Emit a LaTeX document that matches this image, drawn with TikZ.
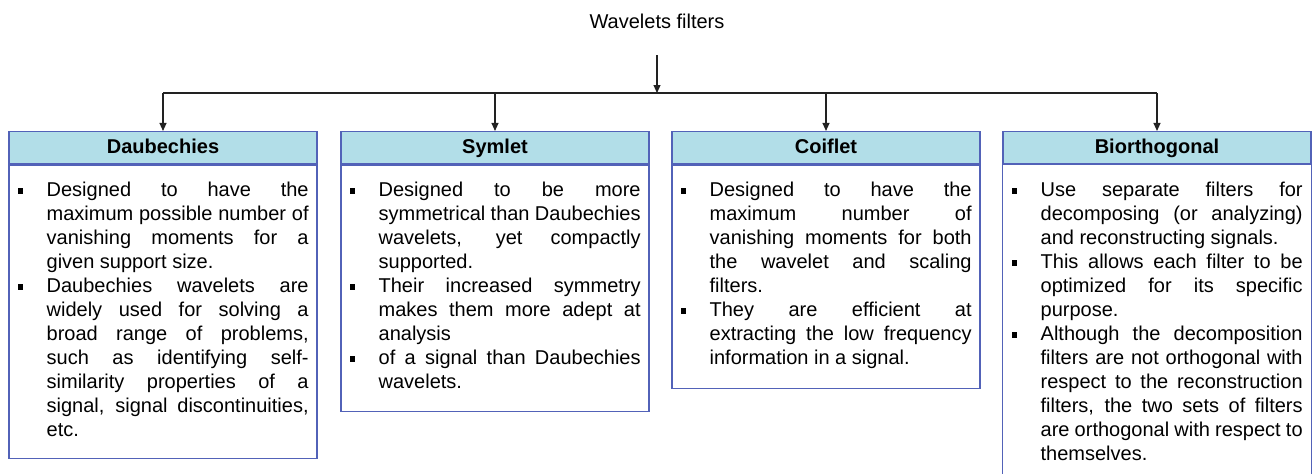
\documentclass[tikz,border=0pt]{standalone}
\usepackage{fontspec}
\setmainfont{Liberation Sans}
\usetikzlibrary{arrows.meta}

\definecolor{headfill}{HTML}{B2DEE8}
\definecolor{frameblue}{HTML}{5262B8}
\definecolor{linkgray}{HTML}{222222}

% small square bullet used in the description lists
\newcommand\sqbullet{\hspace*{5pt}\rule[3.2pt]{5.5pt}{5.5pt}}
\newenvironment{sqlist}{%
  \begin{list}{\sqbullet}{%
    \setlength\leftmargin{34pt}\setlength\rightmargin{4pt}%
    \setlength\labelwidth{34pt}\setlength\labelsep{0pt}%
    \setlength\itemindent{0pt}\setlength\itemsep{0pt}%
    \setlength\parsep{0pt}\setlength\topsep{0pt}\setlength\partopsep{0pt}%
    \renewcommand\makelabel[1]{\makebox[\labelwidth][l]{##1}}}%
  \tolerance=10000 \hbadness=10000 \hyphenpenalty=10000 \exhyphenpenalty=10000 }%
  {\end{list}}

\begin{document}
\begin{tikzpicture}[x=1pt,y=-1pt,
  titletext/.style={font=\fontsize{20}{24}\selectfont, inner sep=0pt},
  head/.style={draw=frameblue, line width=1.1pt, fill=headfill,
    minimum width=308pt, minimum height=32.5pt, inner sep=0pt,
    text height=14.5pt, text depth=4pt,
    font=\bfseries\fontsize{20}{24}\selectfont},
  body/.style={draw=frameblue, line width=1.1pt, minimum width=308pt,
    inner sep=0pt, anchor=north},
  frame/.style={draw=frameblue, line width=1.1pt},
  bodytext/.style={anchor=north west, inner sep=0pt, text width=300pt,
    align=justify, font=\fontsize{20}{24}\selectfont},
  link/.style={draw=linkgray, line width=1.1pt},
  conn/.style={link, -{Triangle[length=8pt,width=7pt]}}]

\useasboundingbox (0,0) rectangle (1314,474);

% root label
\node[titletext, anchor=base] (title) at (657,28) {Wavelets filters};

% headers
\node[head] (dH) at (163,147.75) {Daubechies};
\node[head] (sH) at (495,147.75) {Symlet};
\node[head] (cH) at (826,147.75) {Coiflet};
\node[head] (bH) at (1157,147.75) {Biorthogonal};

% body frames
\node[body, minimum height=293pt] (dF) at (dH.south) {};
\node[body, minimum height=246pt] (sF) at (sH.south) {};
\node[body, minimum height=223pt] (cF) at (cH.south) {};
\coordinate (pagebottom) at (0,474);
\draw[frame] (bH.south west) -- (bH.south west |- pagebottom);
\draw[frame] (bH.south east) -- (bH.south east |- pagebottom);

% headers drawn again on top of the frames
\node[head] at (dH) {Daubechies};
\node[head] at (sH) {Symlet};
\node[head] at (cH) {Coiflet};
\node[head] at (bH) {Biorthogonal};

% descriptions
\node[bodytext] (dT) at ([xshift=4pt,yshift=-8pt]dH.south west) {%
\begin{sqlist}
\item Designed to have the\linebreak maximum possible number of\linebreak vanishing moments for a\linebreak given support size.
\item Daubechies wavelets are\linebreak widely used for solving a\linebreak broad range of problems,\linebreak such as identifying self-\linebreak similarity properties of a\linebreak signal, signal discontinuities,\linebreak etc.
\end{sqlist}};

\node[bodytext] (sT) at ([xshift=4pt,yshift=-8pt]sH.south west) {%
\begin{sqlist}
\item Designed to be more\linebreak symmetrical than Daubechies\linebreak wavelets, yet compactly\linebreak supported.
\item Their increased symmetry\linebreak makes them more adept at\linebreak analysis
\item of a signal than Daubechies\linebreak wavelets.
\end{sqlist}};

\node[bodytext] (cT) at ([xshift=4pt,yshift=-8pt]cH.south west) {%
\begin{sqlist}
\item Designed to have the\linebreak maximum number of\linebreak vanishing moments for both\linebreak the wavelet and scaling\linebreak filters.
\item They are efficient at\linebreak extracting the low frequency\linebreak information in a signal.
\end{sqlist}};

\node[bodytext] (bT) at ([xshift=4pt,yshift=-8pt]bH.south west) {%
\begin{sqlist}
\item Use separate filters for\linebreak decomposing (or analyzing)\linebreak and reconstructing signals.
\item This allows each filter to be\linebreak optimized for its specific\linebreak purpose.
\item Although the decomposition\linebreak filters are not orthogonal with\linebreak respect to the reconstruction\linebreak filters, the two sets of filters\linebreak are orthogonal with respect to\linebreak themselves.
\end{sqlist}};

% connectors
\coordinate (bus) at (657,93);
\draw[conn] ([yshift=-27pt]title.base) -- (bus);
\draw[link] (dH.north |- bus) -- (bH.north |- bus);
\foreach \n in {dH,sH,cH,bH}
  \draw[conn] (\n.north |- bus) -- (\n.north);

\end{tikzpicture}
\end{document}
